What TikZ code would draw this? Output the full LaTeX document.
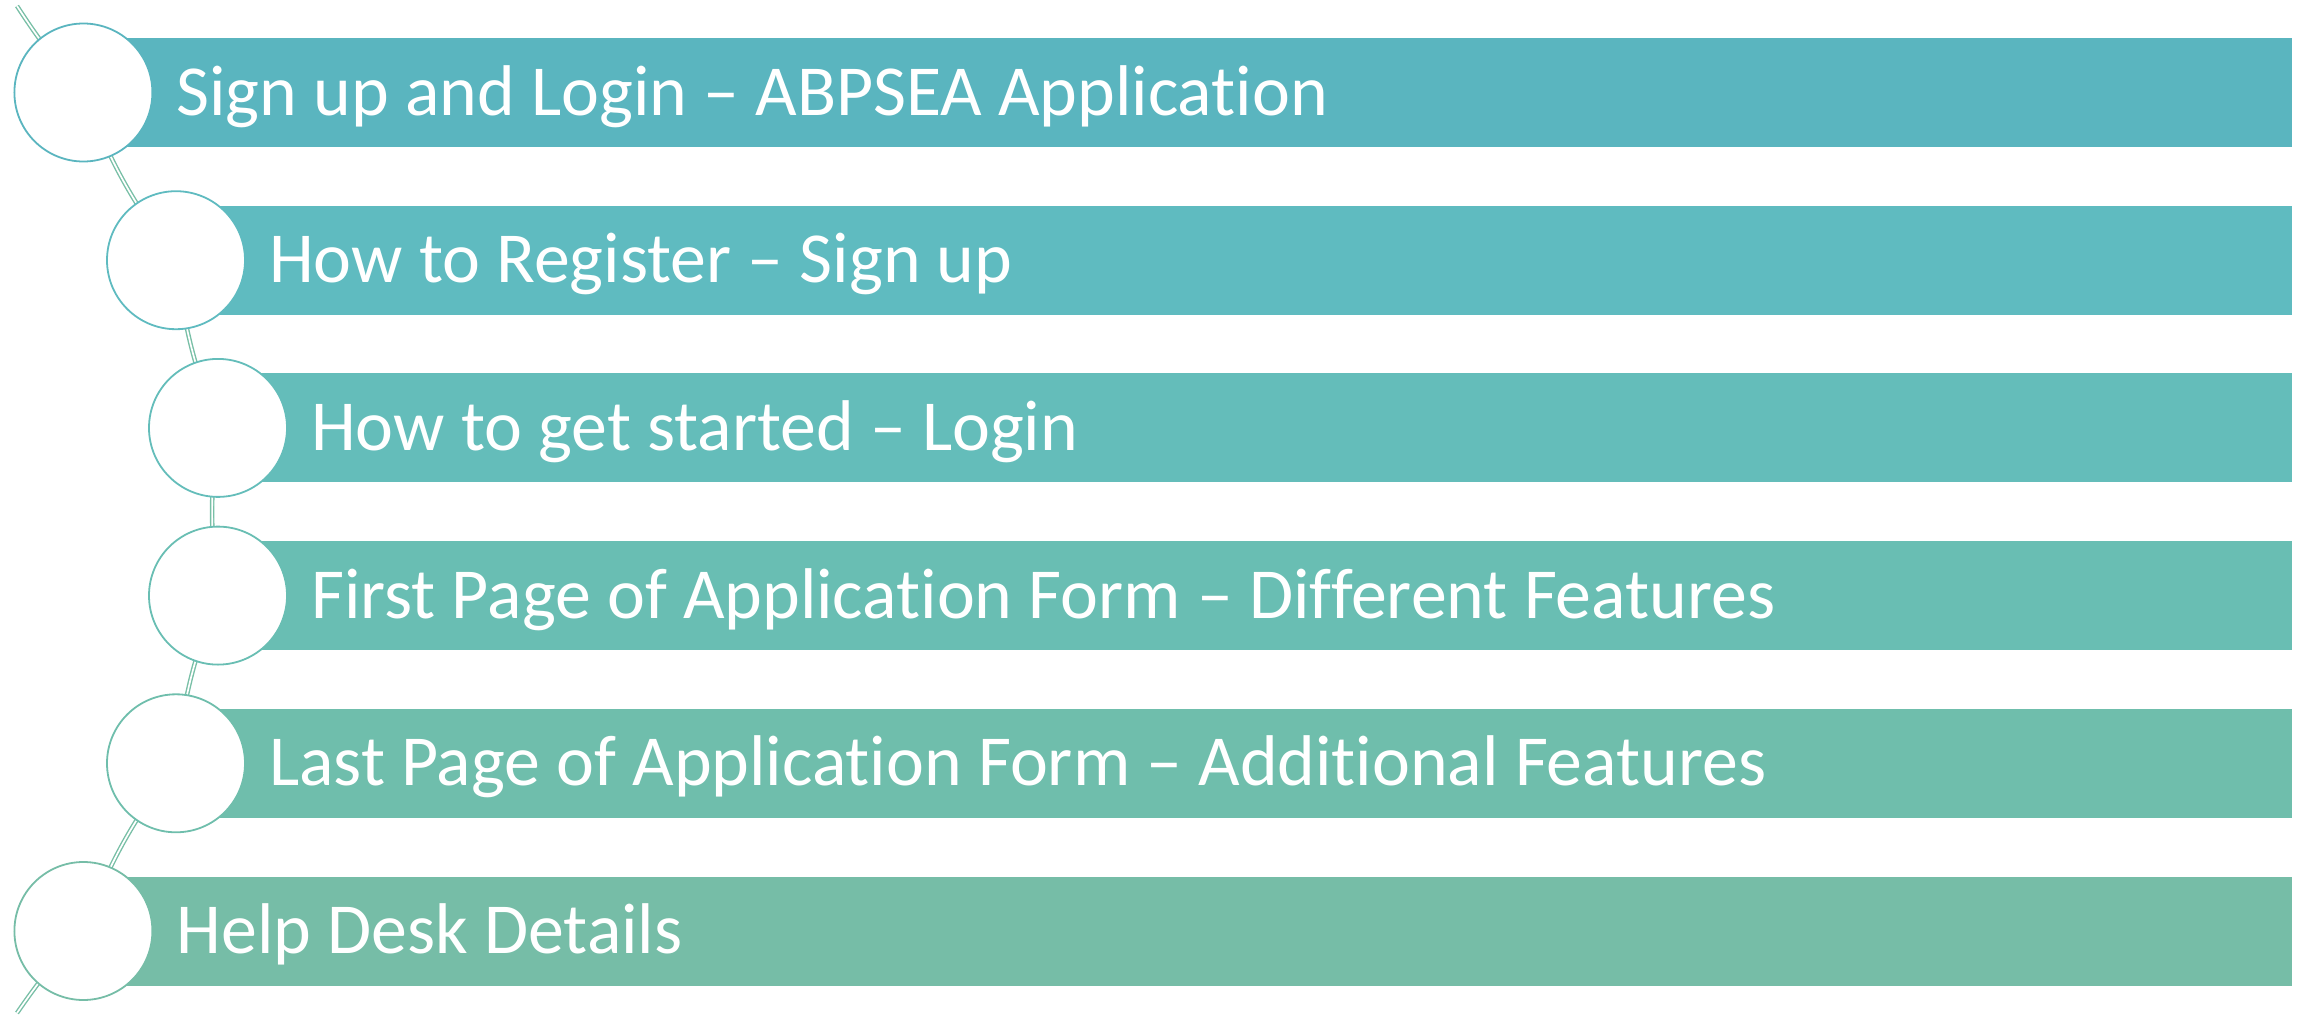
\documentclass[tikz,border=0pt]{standalone}
\usepackage{fontspec}
\setmainfont[Ligatures=NoCommon]{Carlito}
\pgfdeclarelayer{background}
\pgfsetlayers{background,main}
\definecolor{cA}{RGB}{90,181,191}
\definecolor{cB}{RGB}{95,187,192}
\definecolor{cC}{RGB}{100,189,186}
\definecolor{cD}{RGB}{105,190,179}
\definecolor{cE}{RGB}{111,190,172}
\definecolor{cF}{RGB}{118,189,167}
\definecolor{lineG}{RGB}{120,191,166}
\tikzset{
  bar/.style={fill=#1, draw=none, anchor=west, minimum height=109pt, inner sep=0pt, outer sep=0pt},
  circ/.style={circle, fill=white, draw=#1, line width=1.8pt, minimum size=138pt, inner sep=0pt, outer sep=0pt},
  lbl/.style={anchor=base west, text=white, inner sep=0pt, font=\fontsize{71.8pt}{80pt}\selectfont},
  link/.style={draw=lineG, line width=1.4pt, double=white, double distance=1.7pt}
}
\begin{document}
\begin{tikzpicture}[x=1pt,y=-1pt]
\useasboundingbox (0,0) rectangle (2303,1017);
% named end points of the arc
\coordinate (top) at (17,6);
\coordinate (bot) at (17,1013);
% circle centres (positions on an arc)
\coordinate (p1) at (83.4,92.5);
\coordinate (p2) at (176,260.2);
\coordinate (p3) at (218,427.9);
\coordinate (p4) at (218,595.6);
\coordinate (p5) at (176,763.3);
\coordinate (p6) at (83.4,931);
% bars
\node[bar=cA, minimum width={2292pt-83.4pt}] (b1) at (p1) {};
\node[bar=cB, minimum width={2292pt-176pt}] (b2) at (p2) {};
\node[bar=cC, minimum width={2292pt-218pt}] (b3) at (p3) {};
\node[bar=cD, minimum width={2292pt-218pt}] (b4) at (p4) {};
\node[bar=cE, minimum width={2292pt-176pt}] (b5) at (p5) {};
\node[bar=cF, minimum width={2292pt-83.4pt}] (b6) at (p6) {};
% circles
\node[circ=cA] (c1) at (p1) {};
\node[circ=cB] (c2) at (p2) {};
\node[circ=cC] (c3) at (p3) {};
\node[circ=cD] (c4) at (p4) {};
\node[circ=cE] (c5) at (p5) {};
\node[circ=cF] (c6) at (p6) {};
% connectors (behind the circles and bars)
\begin{pgfonlayer}{background}
\draw[link] (top) to[bend right=4.4] (c1.center);
\draw[link] (c1.center) to[bend right=7.9] (c2.center);
\draw[link] (c2.center) to[bend right=7.1] (c3.center);
\draw[link] (c3.center) to[bend right=6.9] (c4.center);
\draw[link] (c4.center) to[bend right=7.1] (c5.center);
\draw[link] (c5.center) to[bend right=7.9] (c6.center);
\draw[link] (c6.center) to[bend right=4.4] (bot);
\end{pgfonlayer}
% labels
\node[lbl] (t1) at ([xshift=93pt,yshift=-22.5pt]p1) {Sign up and Login – ABPSEA Application};
\node[lbl] (t2) at ([xshift=93pt,yshift=-22.5pt]p2) {How to Register – Sign up};
\node[lbl] (t3) at ([xshift=93pt,yshift=-22.5pt]p3) {How to get started – Login};
\node[lbl] (t4) at ([xshift=93pt,yshift=-22.5pt]p4) {First Page of Application Form – Different Features};
\node[lbl] (t5) at ([xshift=93pt,yshift=-22.5pt]p5) {Last Page of Application Form – Additional Features};
\node[lbl] (t6) at ([xshift=93pt,yshift=-22.5pt]p6) {Help Desk Details};
\end{tikzpicture}
\end{document}
